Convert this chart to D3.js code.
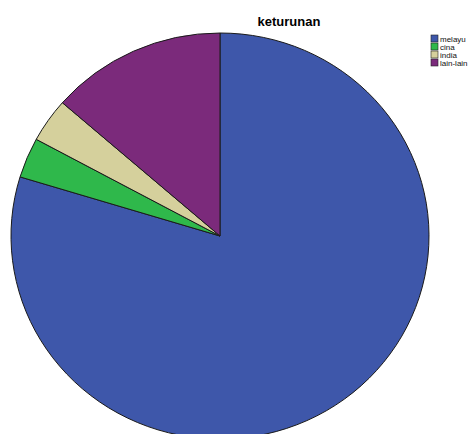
<!DOCTYPE html>
<html>
<head>
<meta charset="utf-8">
<script src="https://cdn.jsdelivr.net/npm/d3@7"></script>
<style>
  body { margin: 0; background: #fff; }
  svg { display: block; font-family: Arial, "Liberation Sans", sans-serif; }
</style>
</head>
<body>
<div id="chart"></div>
<script>
var categories = ["melayu", "cina", "india", "lain-lain"];
var values = [79.7, 3.2, 3.5, 13.6];
var colors = ["#3e57aa", "#2fb84b", "#d5d09c", "#7b2a7b"];

var width = 476, height = 434;
var cx = 220, cy = 236, rx = 209, ry = 203;

var svg = d3.select("#chart").append("svg")
  .attr("width", width)
  .attr("height", height);

var pie = d3.pie().sort(null).value(function (d) { return d; });
var arc = d3.arc().innerRadius(0).outerRadius(rx);

// pie slightly squashed vertically like the original
var g = svg.append("g")
  .attr("transform", "translate(" + cx + "," + cy + ") scale(1," + (ry / rx) + ")");

g.selectAll("path")
  .data(pie(values))
  .enter().append("path")
  .attr("d", arc)
  .attr("fill", function (d, i) { return colors[i]; })
  .attr("stroke", "#1a1a1a")
  .attr("stroke-width", 1)
  .attr("vector-effect", "non-scaling-stroke");

svg.append("text")
  .attr("x", 289)
  .attr("y", 26)
  .attr("text-anchor", "middle")
  .attr("font-size", 13)
  .attr("font-weight", "bold")
  .text("keturunan");

var legend = svg.append("g").attr("transform", "translate(431,35)");
var rows = legend.selectAll("g")
  .data(categories)
  .enter().append("g")
  .attr("transform", function (d, i) { return "translate(0," + (i * 8) + ")"; });

rows.append("rect")
  .attr("width", 7)
  .attr("height", 7)
  .attr("fill", function (d, i) { return colors[i]; })
  .attr("stroke", "#222")
  .attr("stroke-width", 0.6);

rows.append("text")
  .attr("x", 9)
  .attr("y", 6.5)
  .attr("font-size", 8)
  .attr("fill", "#111")
  .text(function (d) { return d; });
</script>
</body>
</html>
